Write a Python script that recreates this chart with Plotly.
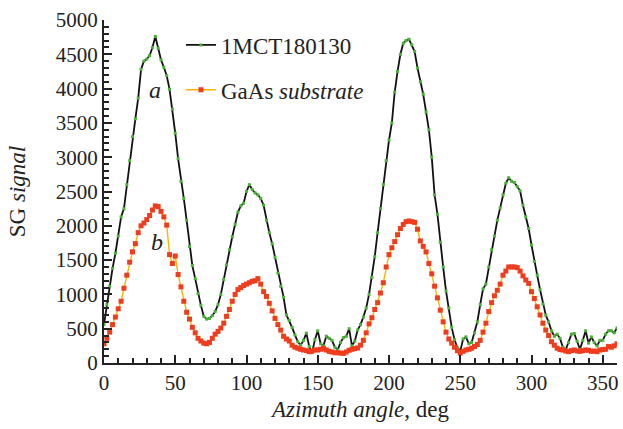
import plotly.graph_objects as go

angle = list(range(0, 361, 2))

sig_a = [560, 850, 1120, 1380, 1600, 1850, 2130, 2250, 2600, 2950,
         3300, 3560, 3860, 4280, 4400, 4430, 4480, 4600, 4760, 4590,
         4420, 4310, 4190, 3990, 3700, 3350, 2980, 2650, 2400, 2080,
         1700, 1420, 1230, 1010, 840, 680, 640, 650, 690, 750,
         850, 1000, 1220, 1430, 1650, 1840, 2020, 2200, 2290, 2330,
         2500, 2600, 2530, 2480, 2450, 2400, 2300, 2080, 1900, 1740,
         1540, 1310, 1120, 960, 700, 620, 520, 410, 310, 260,
         330, 435, 240, 150, 340, 470, 280, 250, 390, 360,
         330, 230, 190, 300, 370, 390, 500, 250, 320, 480,
         560, 670, 800, 1000, 1250, 1550, 1900, 2250, 2600, 2950,
         3250, 3500, 3950, 4250, 4500, 4660, 4700, 4720, 4640, 4540,
         4300, 4100, 3920, 3660, 3400, 3000, 2450, 2170, 1760, 1400,
         1050, 800, 520, 340, 220, 170, 350, 380, 280, 300,
         440, 600, 850, 1080, 1150, 1400, 1650, 1850, 2080, 2260,
         2450, 2620, 2700, 2650, 2630, 2570, 2510, 2300, 2130, 1960,
         1720, 1480, 1280, 1070, 860, 700, 600, 470, 390, 420,
         360, 230, 190, 300, 420, 430, 320, 200, 330, 470,
         290, 380, 300, 250, 330, 330, 420, 470, 470, 440,
         510]

sig_b = [280, 360, 450, 560, 670, 790, 900, 1090, 1280, 1470,
         1620, 1740, 1900, 2000, 2040, 2090, 2150, 2230, 2290, 2280,
         2210, 2130, 2010, 1580, 1450, 1560, 1290, 1110, 900, 740,
         640, 520, 440, 360, 320, 290, 280, 300, 360, 420,
         460, 510, 580, 680, 780, 900, 1000, 1070, 1100, 1130,
         1150, 1170, 1190, 1200, 1230, 1150, 1040, 970, 870, 760,
         650, 560, 480, 390, 350, 320, 260, 230, 215, 200,
         190, 180, 165, 175, 190, 190, 200, 215, 190, 170,
         160, 150, 150, 145, 140, 160, 185, 200, 210, 220,
         260, 330, 440, 570, 660, 780, 880, 1020, 1170, 1400,
         1580, 1680, 1770, 1870, 1960, 2020, 2060, 2070, 2060, 2050,
         1950, 1780, 1700, 1620, 1450, 1300, 1120, 950, 770, 600,
         450, 350, 290, 230, 180, 145, 170, 190, 200, 215,
         240, 270, 330, 450, 580, 750, 880, 980, 1060, 1150,
         1280, 1340, 1400, 1400, 1400, 1390, 1340, 1270, 1210, 1160,
         1040, 940, 820, 700, 580, 480, 400, 310, 260, 215,
         195, 190, 175, 165, 180, 190, 175, 170, 180, 190,
         185, 170, 175, 165, 190, 195, 200, 240, 230, 250,
         280]

name_a = "1MCT180130"
name_b = "GaAs <i>substrate</i>"

x_ticks = [0, 50, 100, 150, 200, 250, 300, 350]
y_ticks = [0, 500, 1000, 1500, 2000, 2500, 3000, 3500, 4000, 4500, 5000]

serif = "Liberation Serif"

fig = go.Figure()
fig.add_trace(go.Scatter(
    x=angle, y=sig_a, name=name_a, mode="lines+markers",
    line=dict(color="#111111", width=1.8),
    marker=dict(color="#4caf3a", size=3, symbol="square"),
    legendgroup="a"))
fig.add_trace(go.Scatter(
    x=angle, y=sig_b, name=name_b, mode="lines+markers",
    line=dict(color="#ffb400", width=1.4),
    marker=dict(color="#f03c1e", size=5, symbol="square"),
    legendgroup="b"))

fig.add_annotation(x=35.7, y=3980, text="<i>a</i>", showarrow=False,
                   font=dict(family=serif, size=24, color="#222"))
fig.add_annotation(x=37, y=1760, text="<i>b</i>", showarrow=False,
                   font=dict(family=serif, size=24, color="#222"))

axis_common = dict(showgrid=False, zeroline=False, showline=True,
                   linecolor="#222", linewidth=2, ticks="inside",
                   ticklen=8, tickwidth=1.5, tickcolor="#222",
                   automargin=False)

fig.update_layout(
    width=623, height=429,
    margin=dict(l=104, r=6, t=20, b=66),
    paper_bgcolor="white", plot_bgcolor="white",
    font=dict(family=serif, size=21, color="#222"),
    showlegend=True,
    legend=dict(x=0.15, y=0.99, xanchor="left", yanchor="top",
                bgcolor="rgba(0,0,0,0)", font=dict(family=serif, size=23),
                tracegroupgap=12, itemwidth=30),
    xaxis=dict(range=[0, 360], tickvals=x_ticks,
               minor=dict(dtick=10, ticks="inside", ticklen=5, tickcolor="#222"),
               title=dict(text="<i>Azimuth angle</i>, deg", standoff=7,
                          font=dict(family=serif, size=23)),
               **axis_common),
    yaxis=dict(range=[0, 5000], tickvals=y_ticks,
               minor=dict(dtick=100, ticks="inside", ticklen=5, tickcolor="#222"),
               title=dict(text="SG <i>signal</i>", standoff=24,
                          font=dict(family=serif, size=23)),
               **axis_common),
    xaxis2=dict(overlaying="x", side="top", matches="x", range=[0, 360],
                tickvals=x_ticks, showticklabels=False, **axis_common),
    yaxis2=dict(overlaying="y", side="right", matches="y", range=[0, 5000],
                tickvals=y_ticks, showticklabels=False, **axis_common),
)

fig.write_html("out.html", config={"displayModeBar": False},
               post_script="document.body.style.margin='0';document.body.style.overflow='hidden';")
